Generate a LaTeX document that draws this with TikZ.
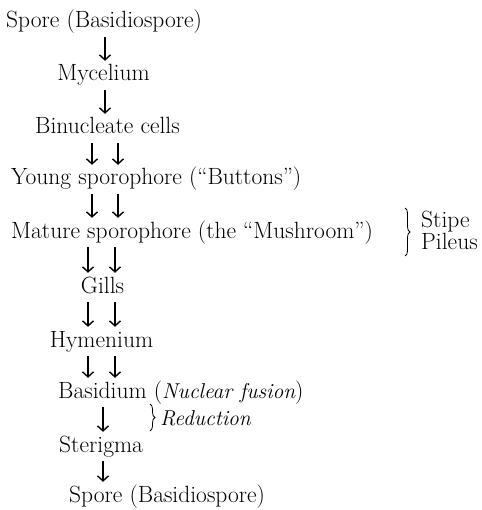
\documentclass[tikz,border=0pt]{standalone}
\usetikzlibrary{arrows.meta,decorations.pathreplacing}
\newcommand{\smit}[1]{{\fontsize{21.5}{26}\selectfont\itshape #1}}
\begin{document}
\begin{tikzpicture}[x=1pt,y=-1pt,
  lbl/.style={inner sep=0pt,anchor=base,font=\fontsize{23.5}{28}\selectfont,text height=15pt,text depth=5pt},
  arr/.style={line width=1.4pt,-{Straight Barb[length=5pt,width=11pt]},shorten <=4pt,shorten >=5pt},
  brc/.style={decorate,decoration={brace,amplitude=5pt},line width=0.8pt}]
\useasboundingbox (0,0) rectangle (481,510);
\node[lbl,anchor=base west] (s1) at (6,28) {Spore (Basidiospore)};
\node[lbl] (myc) at (103.5,81) {Mycelium};
\node[lbl] (bin) at (107.5,134) {Binucleate cells};
\node[lbl,anchor=base west] (young) at (11,185) {Young sporophore (“Buttons”)};
\node[lbl,anchor=base west] (mat) at (11,238) {Mature sporophore (the “Mushroom”)};
\node[lbl,anchor=base west] (stipe) at (421,227) {Stipe};
\node[lbl,anchor=base west] (pileus) at (421,249) {Pileus};
\node[lbl] (gills) at (102.5,293) {Gills};
\node[lbl] (hym) at (101.5,347) {Hymenium};
\node[lbl,anchor=base west] (bas) at (58,398) {Basidium (\smit{Nuclear fusion})};
\node[lbl,anchor=base west] (red) at (160,425) {\smit{Reduction}};
\node[lbl,anchor=base west] (ster) at (59,452) {Sterigma};
\node[lbl,anchor=base west] (s2) at (69,502) {Spore (Basidiospore)};
\coordinate (c1) at (105,0);
\coordinate (c2) at (103,0);
\coordinate (dl1) at (92,0);
\coordinate (dr1) at (118,0);
\coordinate (dl2) at (88,0);
\coordinate (dr2) at (115,0);
\draw[arr] (s1.south -| c1) -- (myc.north -| c1);
\draw[arr] (myc.south -| c1) -- (bin.north -| c1);
\draw[arr] (bin.south -| dl1) -- (young.north -| dl1);
\draw[arr] (bin.south -| dr1) -- (young.north -| dr1);
\draw[arr] (young.south -| dl1) -- (mat.north -| dl1);
\draw[arr] (young.south -| dr1) -- (mat.north -| dr1);
\draw[arr] (mat.south -| dl2) -- (gills.north -| dl2);
\draw[arr] (mat.south -| dr2) -- (gills.north -| dr2);
\draw[arr] (gills.south -| dl2) -- (hym.north -| dl2);
\draw[arr] (gills.south -| dr2) -- (hym.north -| dr2);
\draw[arr] (hym.south -| dl2) -- (bas.north -| dl2);
\draw[arr] (hym.south -| dr2) -- (bas.north -| dr2);
\draw[arr] (bas.south -| c2) -- (ster.north -| c2);
\draw[arr] (ster.south -| c2) -- (s2.north -| c2);
\draw[brc] (405,208) -- (405,256);
\draw[brc] (150,404) -- (150,431);
\end{tikzpicture}
\end{document}
